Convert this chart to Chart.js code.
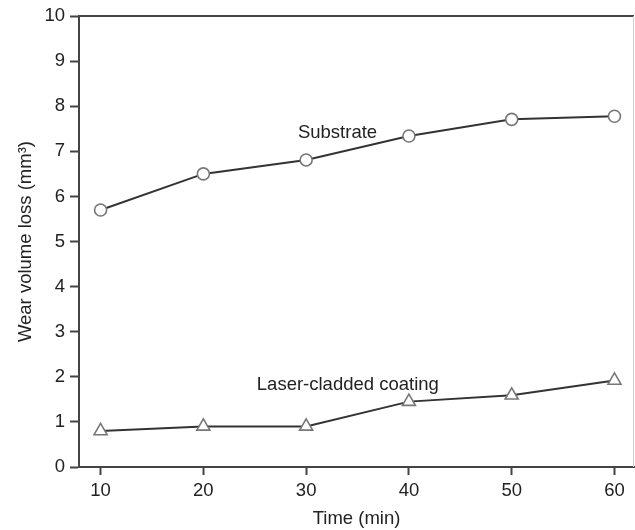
<!DOCTYPE html>
<html>
<head>
<meta charset="utf-8">
<script src="https://cdn.jsdelivr.net/npm/chart.js@4.4.1/dist/chart.umd.min.js"></script>
<style>
  html, body { margin: 0; padding: 0; background: #fff; }
  #wrap { width: 635px; height: 530px; }
</style>
</head>
<body>
<div id="wrap"><canvas id="wear" width="635" height="530"></canvas></div>
<script>
/* ===== Data ===== */
const times       = [10, 20, 30, 40, 50, 60];
const substrate   = [5.70, 6.50, 6.81, 7.34, 7.71, 7.78];
const coating     = [0.80, 0.90, 0.90, 1.45, 1.59, 1.92];
const xTicks      = [10, 20, 30, 40, 50, 60];
const seriesNames = ['Substrate', 'Laser-cladded coating'];
// where the in-plot labels sit, in data units (left x, middle y)
const labelSpots  = [[29.2, 7.4], [25.2, 1.83]];

const FONT = 'Liberation Sans, Arial, Helvetica, sans-serif';
const FS   = 18.5;
const INK  = '#222';
const AXIS = '#444';

const toXY = (ys) => ys.map((y, i) => ({ x: times[i], y }));

/* ===== Frame + text labels ===== */
const framePlugin = {
  id: 'frame',
  afterDatasetsDraw(chart){
    const { ctx, chartArea: a, scales } = chart;
    ctx.save();
    ctx.strokeStyle = AXIS; ctx.lineWidth = 2;
    ctx.beginPath(); ctx.moveTo(a.left, a.top); ctx.lineTo(a.right, a.top); ctx.stroke();
    ctx.strokeStyle = '#d0d0d0'; ctx.lineWidth = 1;
    ctx.beginPath(); ctx.moveTo(a.right - 0.5, a.top); ctx.lineTo(a.right - 0.5, a.bottom); ctx.stroke();

    ctx.fillStyle = INK;
    ctx.font = FS + 'px ' + FONT;
    ctx.textAlign = 'left'; ctx.textBaseline = 'middle';
    seriesNames.forEach((name, i) => {
      const [vx, vy] = labelSpots[i];
      ctx.fillText(name, scales.x.getPixelForValue(vx), scales.y.getPixelForValue(vy));
    });
    ctx.restore();
  }
};

/* ===== Chart ===== */
const lineDs = (data, style, r) => ({
  data: toXY(data),
  borderColor: '#333',
  borderWidth: 2,
  pointStyle: style,
  pointRadius: r,
  pointHoverRadius: r,
  pointBorderColor: '#777',
  pointBorderWidth: 1.6,
  pointBackgroundColor: '#fff',
  tension: 0
});

new Chart(document.getElementById('wear').getContext('2d'), {
  type: 'line',
  data: {
    datasets: [
      lineDs(substrate, 'circle', 6),
      lineDs(coating, 'triangle', 7.5)
    ]
  },
  options: {
    responsive: false,
    animation: false,
    layout: { autoPadding: false, padding: { top: 14, right: 1, left: 0, bottom: 0 } },
    plugins: { legend: { display: false }, tooltip: { enabled: false } },
    scales: {
      x: {
        type: 'linear',
        min: 7.9, max: 61.9,
        afterBuildTicks: (s) => { s.ticks = xTicks.map(v => ({ value: v })); },
        afterFit: (s) => { s.height = 63; },
        grid: { drawOnChartArea: false, tickLength: 8, tickColor: AXIS, tickWidth: 2 },
        border: { color: AXIS, width: 2 },
        ticks: { color: INK, font: { family: FONT, size: FS }, padding: 5, maxRotation: 0 },
        title: { display: true, text: 'Time (min)', color: INK, font: { family: FONT, size: FS }, padding: { top: 0, bottom: 0 } }
      },
      y: {
        min: 0, max: 10,
        afterFit: (s) => { s.width = 79; },
        grid: { drawOnChartArea: false, tickLength: 9, tickColor: AXIS, tickWidth: 2 },
        border: { color: AXIS, width: 2 },
        ticks: { stepSize: 1, color: INK, font: { family: FONT, size: FS }, padding: 5 },
        title: { display: true, text: 'Wear volume loss (mm³)', color: INK, font: { family: FONT, size: FS }, padding: { top: 15, bottom: 0 } }
      }
    }
  },
  plugins: [framePlugin]
});
</script>
</body>
</html>
